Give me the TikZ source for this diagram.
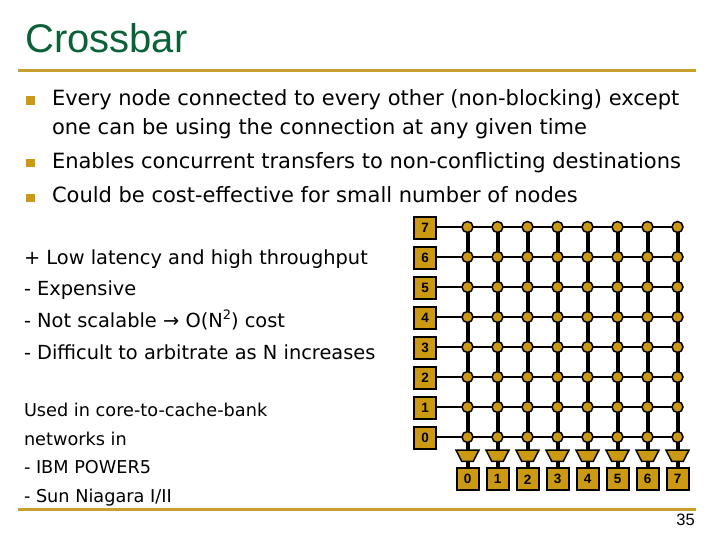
\documentclass[tikz,border=0pt]{standalone}
\usepackage{fontspec}
\setmainfont{DejaVu Sans}
\newfontfamily\arialf{Liberation Sans}
\usetikzlibrary{shapes.geometric}
\definecolor{gold}{HTML}{CC9912}
\definecolor{rulegold}{HTML}{C8A030}
\definecolor{titlegreen}{HTML}{0B6138}
\pgfdeclarelayer{wires}
\pgfsetlayers{wires,main}
\newcommand{\muxfill}{\hbox to 2pt{\vrule width 0pt height 2pt\hfil}}
\tikzset{
  x=1pt,y=-1pt,
  txt/.style={anchor=base west,inner sep=0pt,outer sep=0pt,font=\fontsize{#1}{#1}\selectfont},
  portbox/.style={draw=black,fill=gold,line width=2pt,minimum size=22pt,inner sep=0pt,font=\arialf\bfseries\fontsize{13.5}{13.5}\selectfont},
  xdot/.style={circle,draw=black,fill=gold,line width=1.5pt,minimum size=11pt,inner sep=0pt},
  muxs/.style={trapezium,shape border rotate=180,trapezium left angle=63,trapezium right angle=63,draw=black,fill=gold,line width=1.5pt,minimum width=23pt,minimum height=11pt,inner sep=0pt},
  hwire/.style={draw=black,line width=1.6pt},
  vwire/.style={draw=black,line width=4pt},
  rulel/.style={draw=rulegold,line width=#1},
  bul/.style={fill=gold,minimum size=8.5pt,inner sep=0pt}
}
\begin{document}
\begin{tikzpicture}
\useasboundingbox (0,0) rectangle (720,540);
\node[anchor=base west,inner sep=0pt,text=titlegreen,font=\arialf\fontsize{40}{40}\selectfont] (title) at (25,53) {Crossbar};
\coordinate (r1a) at (18,70.5); \coordinate (r1b) at (696,70.5);
\draw[rulel=3pt] (r1a) -- (r1b);
\coordinate (r2a) at (18,509.5); \coordinate (r2b) at (696,509.5);
\draw[rulel=2.5pt] (r2a) -- (r2b);
\node[bul] (b1) at (30.5,100.5) {};
\node[bul] (b2) at (30.5,163) {};
\node[bul] (b3) at (30.5,198) {};
\node[txt=21.0] (t1) at (52,105.5) {Every node connected to every other (non-blocking) except};
\node[txt=21.0] (t2) at (52,134.5) {one can be using the connection at any given time};
\node[txt=21.0] (t3) at (52,168.5) {Enables concurrent transfers to non-conflicting destinations};
\node[txt=21.0] (t4) at (52,203) {Could be cost-effective for small number of nodes};
\node[txt=19.4] (p1) at (24,264.5) {+ Low latency and high throughput};
\node[txt=19.4] (p2) at (24,295.5) {- Expensive};
\node[txt=19.4] (p3) at (24,327.5) {- Not scalable → O(N\raisebox{.4em}{\fontsize{13}{13}\selectfont 2}) cost};
\node[txt=19.4] (p4) at (24,359.5) {- Difficult to arbitrate as N increases};
\node[txt=17.7] (u1) at (24,416.5) {Used in core-to-cache-bank};
\node[txt=17.7] (u2) at (24,445.5) {networks in};
\node[txt=17.7] (u3) at (24,473.5) {- IBM POWER5};
\node[txt=17.7] (u4) at (24,502.5) {- Sun Niagara I/II};
\node[anchor=base east,inner sep=0pt,font=\arialf\fontsize{16.5}{16.5}\selectfont] (pg) at (695,525) {35};
\foreach \j in {0,...,7}{
  \node[portbox] (l\j) at (425,{438-30*\j}) {\j};
  \node[portbox] (b\j) at ({467.5+30*\j},479.3) {\j};
  \node[muxs] (m\j) at ({467.5+30*\j},455.8) {\muxfill};
  \foreach \i in {0,...,7}{
    \node[xdot] (c\i-\j) at ({467.5+30*\i},{437-30*\j}) {};
  }
}
\begin{pgfonlayer}{wires}
\foreach \j in {0,...,7}{
  \draw[hwire] (l\j.center |- c0-\j) -- (c7-\j.center);
  \draw[vwire] (c\j-7.center) -- (c\j-0.center);
  \draw[vwire] (c\j-0.center) -- (m\j.center);
  \draw[vwire] (m\j.center) -- (b\j.center);
}
\end{pgfonlayer}
\end{tikzpicture}
\end{document}
